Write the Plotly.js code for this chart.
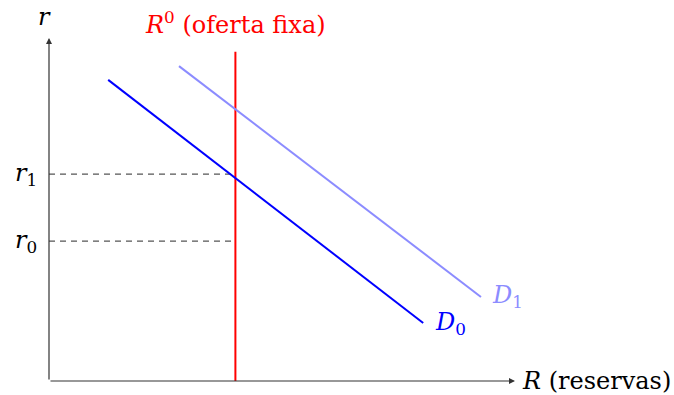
<!DOCTYPE html>
<html><head><meta charset="utf-8">
<script src="https://cdn.plot.ly/plotly-3.0.1.min.js"></script>
<style>body{margin:0;background:#fff}#c{width:674px;height:395px}</style>
</head><body><div id="c"></div>
<script>
// Data (arbitrary units)
const d0X = [1.27, 8.03];
const d0Y = [8.78, 1.69];
const d1X = [2.79, 9.27];
const d1Y = [9.18, 2.45];
const supplyX = 4.0;
const supplyTop = 9.6;
const r1 = 6.03;
const r0 = 4.08;
const axisMax = 10;

const serif = "DejaVu Serif";
const traces = [
  {x:[supplyX, supplyX], y:[0, supplyTop], mode:'lines', line:{color:'#ff0000', width:2}, hoverinfo:'skip'},
  {x:[0, supplyX], y:[r1, r1], mode:'lines', line:{color:'#555', width:1.2, dash:'6px,5px'}, hoverinfo:'skip'},
  {x:[0, supplyX], y:[r0, r0], mode:'lines', line:{color:'#555', width:1.2, dash:'6px,5px'}, hoverinfo:'skip'},
  {x:d1X, y:d1Y, mode:'lines', line:{color:'#8c8cff', width:2}, hoverinfo:'skip'},
  {x:d0X, y:d0Y, mode:'lines', line:{color:'#0000ff', width:2}, hoverinfo:'skip'}
];
const F = {family: serif, size: 24, color:'#000'};
const layout = {
  width:674, height:395, margin:{l:0,r:0,t:0,b:0},
  paper_bgcolor:'#fff', plot_bgcolor:'#fff', showlegend:false,
  font:{family: serif},
  xaxis:{range:[-1.0515, 13.412], visible:false, fixedrange:true},
  yaxis:{range:[-0.408, 11.108], visible:false, fixedrange:true},
  annotations:[
    {x:axisMax, y:0, ax:0, ay:0, axref:'x', ayref:'y', xref:'x', yref:'y', text:'', showarrow:true, arrowhead:2, arrowsize:1, arrowwidth:1.2, arrowcolor:'#333', standoff:0, startstandoff:0},
    {x:0, y:axisMax, ax:0, ay:0, axref:'x', ayref:'y', xref:'x', yref:'y', text:'', showarrow:true, arrowhead:2, arrowsize:1, arrowwidth:1.2, arrowcolor:'#333', standoff:0, startstandoff:0},
    {x:-0.1, y:10.6, xref:'x', yref:'y', text:'<i>r</i>', showarrow:false, font:F, xanchor:'center', yanchor:'middle'},
    {x:supplyX, y:10.45, xref:'x', yref:'y', text:'<i>R</i><sup>0</sup> (oferta fixa)', showarrow:false, font:Object.assign({}, F, {color:'#ff0000'}), xanchor:'center', yanchor:'middle'},
    {x:-0.22, y:r1, xref:'x', yref:'y', text:'<i>r</i><sub>1</sub>', showarrow:false, font:F, xanchor:'right', yanchor:'middle'},
    {x:-0.22, y:r0, xref:'x', yref:'y', text:'<i>r</i><sub>0</sub>', showarrow:false, font:F, xanchor:'right', yanchor:'middle'},
    {x:d0X[1]+0.2, y:d0Y[1], xref:'x', yref:'y', text:'<i>D</i><sub>0</sub>', showarrow:false, font:Object.assign({}, F, {color:'#0000ff'}), xanchor:'left', yanchor:'middle'},
    {x:d1X[1]+0.2, y:d1Y[1], xref:'x', yref:'y', text:'<i>D</i><sub>1</sub>', showarrow:false, font:Object.assign({}, F, {color:'#8c8cff'}), xanchor:'left', yanchor:'middle'},
    {x:axisMax+0.1, y:0, xref:'x', yref:'y', text:'<i>R</i> (reservas)', showarrow:false, font:F, xanchor:'left', yanchor:'middle'}
  ]
};
Plotly.newPlot('c', traces, layout, {staticPlot:true, displayModeBar:false});
</script></body></html>
